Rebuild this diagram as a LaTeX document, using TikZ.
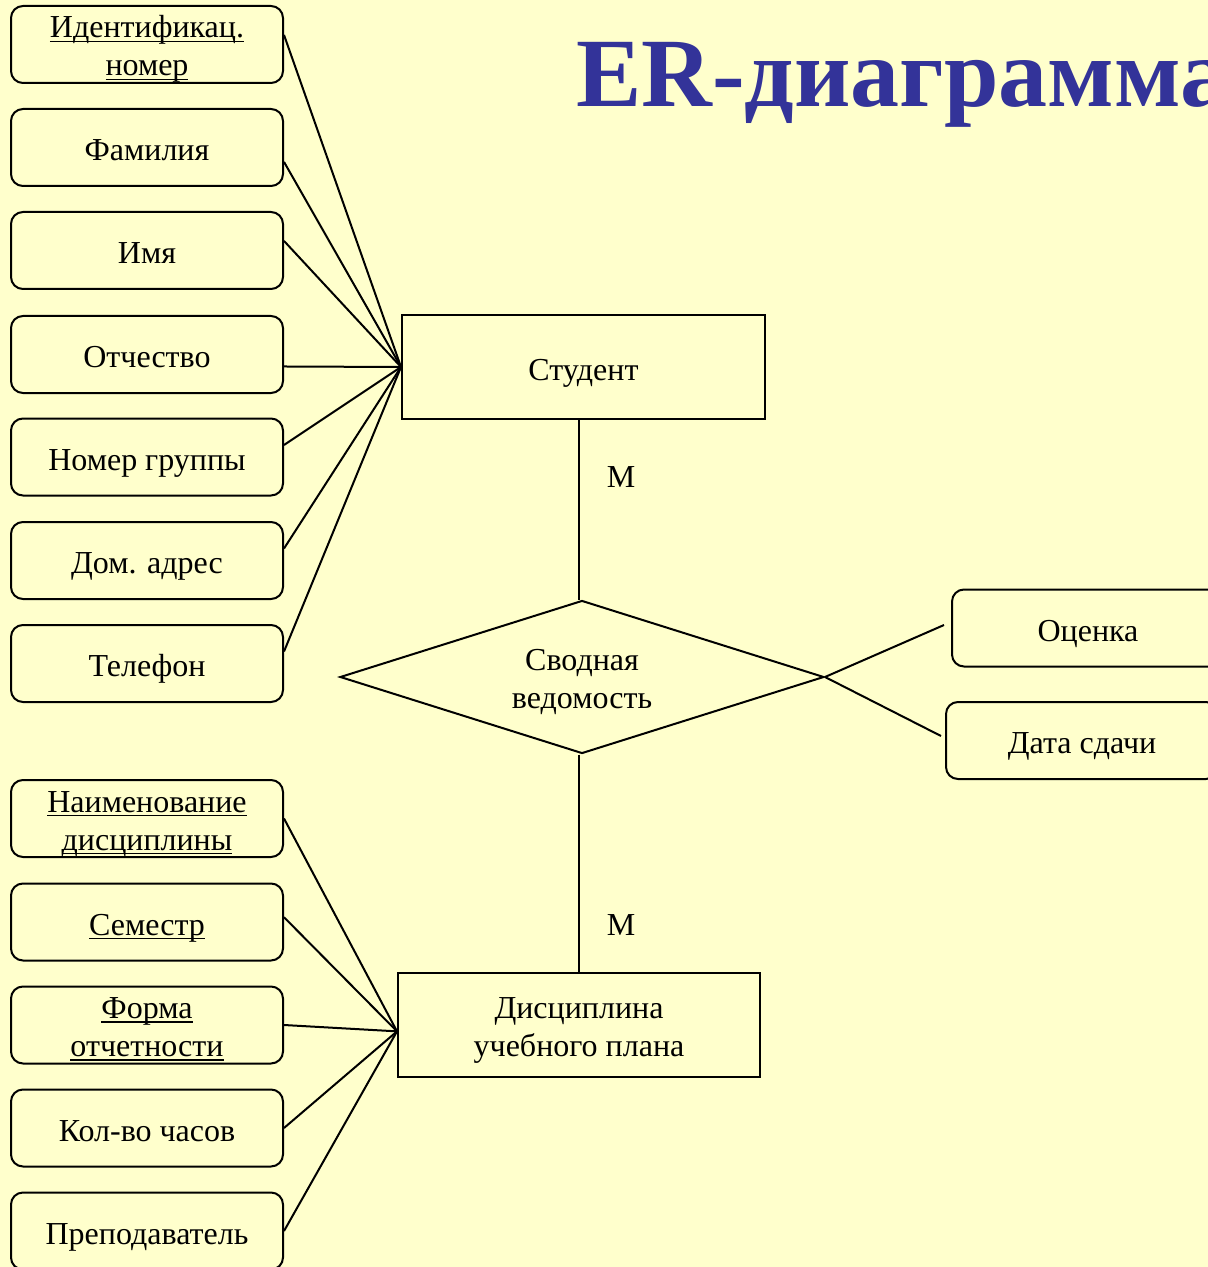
\documentclass[tikz,border=0pt]{standalone}
\usepackage{fontspec}
\setmainfont{Liberation Serif}
\usetikzlibrary{shapes.geometric}

\definecolor{bgyellow}{HTML}{FFFFCC}
\definecolor{titleblue}{HTML}{333399}

% underlined key attribute
\newcommand{\ulkey}[1]{\setbox0\hbox{#1}\rlap{\rule[-2.2pt]{\wd0}{0.9pt}}\box0}

\tikzset{
    boxtext/.style={execute at begin node={\rule[-4pt]{0pt}{21pt}},
        execute at end node={\rule[-4pt]{0pt}{4pt}}},
    twolines/.style={execute at begin node={}, execute at end node={},
        text height=31.5pt, text depth=0pt},
    attr/.style={draw, rounded corners=6pt, minimum width=136pt, minimum height=38.5pt,
        inner sep=0pt, align=center, boxtext},
    entity/.style={draw, minimum width=181.5pt, minimum height=51.5pt,
        inner sep=0pt, align=center, boxtext},
    relation/.style={draw, diamond, aspect=3.16, minimum width=242pt, minimum height=76.5pt,
        inner sep=0pt, align=center, boxtext},
    card/.style={inner sep=0pt}
}

\begin{document}
\begin{tikzpicture}[x=0.5pt, y=-0.5pt, line width=1pt,
    every node/.style={font=\fontsize{16}{19}\selectfont}]
    \useasboundingbox (0,0) rectangle (1208,1267);
    \fill[bgyellow] (0,0) rectangle (1208,1267);

    % Title
    \node[anchor=base west, inner sep=0pt, text=titleblue,
        font=\fontsize{49}{55}\selectfont\bfseries] (title) at (575,107) {ER-диаграмма};

    % Entities and relation
    \node[entity] (student) at (583.5,367) {Студент};
    \node[relation, twolines] (rel) at (582,677) {Сводная\\ведомость};
    \node[entity, twolines, minimum width=181pt, minimum height=52pt] (disc) at (579,1025)
        {Дисциплина\\учебного плана};

    % Student attributes
    \node[attr, twolines] (s1) at (147,44.5) {\ulkey{Идентификац.}\\\ulkey{номер}};
    \node[attr] (s2) at (147,147.5) {Фамилия};
    \node[attr] (s3) at (147,250.5) {Имя};
    \node[attr] (s4) at (147,354.5) {Отчество};
    \node[attr] (s5) at (147,457)   {Номер группы};
    \node[attr] (s6) at (147,560.5) {Дом. адрес};
    \node[attr] (s7) at (147,663.5) {Телефон};

    % Discipline attributes
    \node[attr, twolines] (d1) at (147,818.5) {\ulkey{Наименование}\\\ulkey{дисциплины}};
    \node[attr] (d2) at (147,922)   {\ulkey{Семестр}};
    \node[attr, twolines] (d3) at (147,1025) {\ulkey{Форма}\\\ulkey{отчетности}};
    \node[attr] (d4) at (147,1128)  {Кол-во часов};
    \node[attr] (d5) at (147,1231)  {Преподаватель};

    % Relation attributes
    \node[attr] (grade) at (1088,628)  {Оценка};
    \node[attr] (date)  at (1082,740.5) {Дата сдачи};

    % Cardinalities
    \node[card] (m1) at (621,477) {М};
    \node[card] (m2) at (621,925) {М};

    % Connectors
    \draw (s1.4.6) -- (student.west);
    \draw (s2.-6) -- (student.west);
    \draw (s3.4.6) -- (student.west);
    \draw (s4.-5.3) -- (student.west);
    \draw (s5.5.3) -- (student.west);
    \draw (s6.5.3) -- (student.west);
    \draw (s7.5.3) -- (student.west);

    \draw (d1.east) -- (disc.182);
    \draw (d2.2) -- (disc.182);
    \draw (d3.east) -- (disc.182);
    \draw (d4.east) -- (disc.182);
    \draw (d5.east) -- (disc.182);

    \draw (disc.north |- student.south) -- (disc.north |- rel.north);
    \draw (disc.north |- rel.south) -- (disc.north);

    \draw (rel.east) -- ([xshift=-3.5pt, yshift=1.5pt]grade.west);
    \draw (rel.east) -- ([xshift=-2pt, yshift=2.25pt]date.west);
\end{tikzpicture}
\end{document}
